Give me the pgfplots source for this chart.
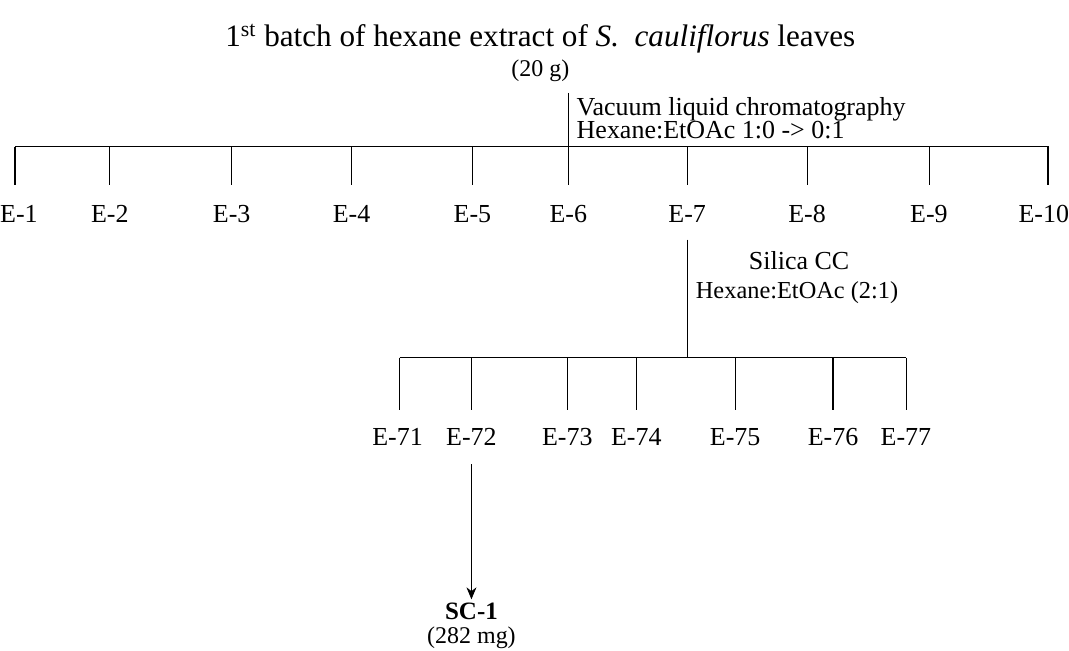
\documentclass[border=0pt]{standalone}
\usepackage{pgfplots}
\pgfplotsset{compat=1.18}
\usepackage{fontspec}
\setmainfont{Liberation Serif}
\usetikzlibrary{arrows.meta}
\begin{document}
\begin{tikzpicture}[lbl/.style={font=\fontsize{13}{15}\selectfont, anchor=base, inner sep=0pt}]
\begin{axis}[
  width=534.5pt, height=325.5pt, scale only axis,
  xmin=0, xmax=1069, ymin=0, ymax=651, y dir=reverse,
  hide axis, clip=false,
  cycle list={{black, solid, line width=0.85pt, mark=none}},
]
\path (axis cs:0,0) rectangle (axis cs:1069,651);
% top stem
\addplot coordinates {(569,93) (569,185)};
% main horizontal
\addplot coordinates {(15,147) (1050,147)};
% fraction drops
\addplot coordinates {(15,147) (15,185)};
\addplot coordinates {(110,147) (110,185)};
\addplot coordinates {(232,147) (232,185)};
\addplot coordinates {(352,147) (352,185)};
\addplot coordinates {(473,147) (473,185)};
\addplot coordinates {(688,147) (688,185)};
\addplot coordinates {(808,147) (808,185)};
\addplot coordinates {(930,147) (930,185)};
\addplot coordinates {(1049,147) (1049,185)};
% E-7 stem
\addplot coordinates {(688,240) (688,358)};
% sub horizontal
\addplot coordinates {(400,358) (907,358)};
\addplot coordinates {(400,358) (400,410)};
\addplot coordinates {(472,358) (472,410)};
\addplot coordinates {(568,358) (568,410)};
\addplot coordinates {(637,358) (637,410)};
\addplot coordinates {(736,358) (736,410)};
\addplot coordinates {(834,358) (834,410)};
\addplot coordinates {(907,358) (907,410)};
% arrow
\addplot+[-{Stealth[length=6pt,width=5pt]}] coordinates {(472,465) (472,600)};

\node[font=\fontsize{15.6}{18}\selectfont, anchor=base, inner sep=0pt] at (axis cs:541,47)
  {1\textsuperscript{st} batch of hexane extract of \textit{S.\ \ cauliflorus} leaves};
\node[lbl, font=\fontsize{12}{14}\selectfont] at (axis cs:541,77) {(20 g)};
\node[lbl, anchor=base west] at (axis cs:577,116) {Vacuum liquid chromatography};
\node[lbl, anchor=base west] at (axis cs:577,139) {Hexane:EtOAc 1:0 -> 0:1};

\node[lbl] at (axis cs:19,223) {E-1};
\node[lbl] at (axis cs:110,223) {E-2};
\node[lbl] at (axis cs:232,223) {E-3};
\node[lbl] at (axis cs:352,223) {E-4};
\node[lbl] at (axis cs:473,223) {E-5};
\node[lbl] at (axis cs:569,223) {E-6};
\node[lbl] at (axis cs:688,223) {E-7};
\node[lbl] at (axis cs:808,223) {E-8};
\node[lbl] at (axis cs:930,223) {E-9};
\node[lbl] at (axis cs:1045,223) {E-10};

\node[lbl] at (axis cs:800,270) {Silica CC};
\node[lbl, font=\fontsize{12.2}{14}\selectfont] at (axis cs:798,299) {Hexane:EtOAc (2:1)};

\node[lbl] at (axis cs:398,446) {E-71};
\node[lbl] at (axis cs:472,446) {E-72};
\node[lbl] at (axis cs:568,446) {E-73};
\node[lbl] at (axis cs:637,446) {E-74};
\node[lbl] at (axis cs:736,446) {E-75};
\node[lbl] at (axis cs:834,446) {E-76};
\node[lbl] at (axis cs:907,446) {E-77};

\node[lbl, font=\bfseries\fontsize{12.5}{15}\selectfont] at (axis cs:472,620) {SC-1};
\node[lbl, font=\fontsize{12}{14}\selectfont] at (axis cs:472,644) {(282 mg)};
\end{axis}
\end{tikzpicture}
\end{document}
